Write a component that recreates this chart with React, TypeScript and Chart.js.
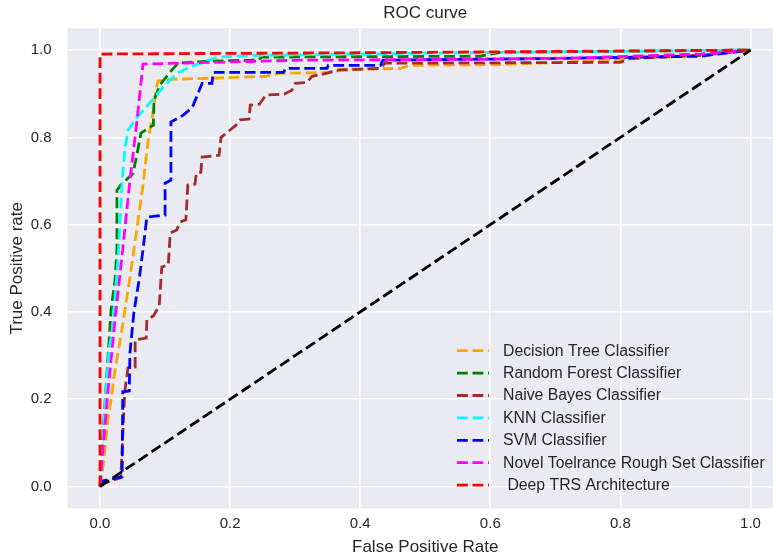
import React, { useEffect, useRef } from "react";
import { Chart, registerables } from "chart.js";

Chart.register(...registerables);

const xTicks = [0, 0.2, 0.4, 0.6, 0.8, 1.0];
const yTicks = [0, 0.2, 0.4, 0.6, 0.8, 1.0];

const seriesLabels = [
  "Decision Tree Classifier",
  "Random Forest Classifier",
  "Naive Bayes Classifier",
  "KNN Classifier",
  "SVM Classifier",
  "Novel Toelrance Rough Set Classifier",
  " Deep TRS Architecture",
];
const seriesColors = ["#FFA500", "#008000", "#A52A2A", "#00FFFF", "#0000FF", "#FF00FF", "#FF0000"];

const dtFpr = [0, 0.006, 0.012, 0.017, 0.023, 0.035, 0.051, 0.066, 0.074, 0.082, 0.086, 0.089, 0.108, 0.177, 0.254, 0.277, 0.362, 0.369, 0.462, 0.477, 0.615, 0.708, 0.8, 0.923, 1];
const dtTpr = [0, 0.061, 0.153, 0.199, 0.267, 0.37, 0.531, 0.69, 0.794, 0.862, 0.908, 0.929, 0.933, 0.936, 0.94, 0.947, 0.949, 0.956, 0.958, 0.965, 0.967, 0.972, 0.979, 0.988, 1];

const rfFpr = [0, 0.006, 0.012, 0.017, 0.023, 0.026, 0.026, 0.032, 0.051, 0.058, 0.063, 0.082, 0.083, 0.092, 0.108, 0.12, 0.169, 0.243, 0.249, 0.585, 0.615, 1];
const rfTpr = [0, 0.153, 0.29, 0.405, 0.473, 0.542, 0.679, 0.691, 0.718, 0.771, 0.81, 0.828, 0.885, 0.92, 0.95, 0.97, 0.975, 0.977, 0.984, 0.986, 0.995, 1];

const nbFpr = [0, 0.006, 0.032, 0.038, 0.043, 0.054, 0.054, 0.071, 0.072, 0.082, 0.091, 0.095, 0.105, 0.108, 0.118, 0.123, 0.132, 0.135, 0.146, 0.148, 0.155, 0.157, 0.183, 0.186, 0.2, 0.209, 0.215, 0.229, 0.231, 0.245, 0.255, 0.283, 0.295, 0.3, 0.318, 0.326, 0.349, 0.363, 0.431, 0.438, 0.8, 0.815, 0.923, 1];
const nbTpr = [0, 0.008, 0.02, 0.217, 0.272, 0.274, 0.336, 0.34, 0.382, 0.391, 0.414, 0.503, 0.508, 0.581, 0.588, 0.606, 0.611, 0.691, 0.693, 0.718, 0.72, 0.755, 0.759, 0.8, 0.817, 0.828, 0.84, 0.842, 0.874, 0.876, 0.897, 0.899, 0.908, 0.924, 0.926, 0.94, 0.947, 0.954, 0.958, 0.97, 0.972, 0.981, 0.988, 1];

const knnFpr = [0, 0.003, 0.008, 0.014, 0.02, 0.028, 0.034, 0.038, 0.043, 0.057, 0.08, 0.097, 0.118, 0.138, 0.18, 0.235, 0.615, 1];
const knnTpr = [0, 0.05, 0.198, 0.313, 0.37, 0.53, 0.702, 0.771, 0.817, 0.846, 0.885, 0.915, 0.947, 0.961, 0.984, 0.988, 0.995, 1];

const svmFpr = [0, 0.005, 0.034, 0.035, 0.045, 0.046, 0.052, 0.06, 0.066, 0.072, 0.1, 0.1, 0.109, 0.109, 0.128, 0.142, 0.157, 0.172, 0.174, 0.282, 0.285, 0.349, 0.351, 0.431, 0.435, 0.708, 0.923, 1];
const svmTpr = [0, 0.013, 0.022, 0.217, 0.219, 0.306, 0.398, 0.473, 0.542, 0.617, 0.622, 0.695, 0.702, 0.835, 0.851, 0.869, 0.924, 0.924, 0.949, 0.949, 0.958, 0.958, 0.965, 0.965, 0.977, 0.981, 0.986, 1];

const trsFpr = [0, 0.003, 0.011, 0.023, 0.034, 0.046, 0.057, 0.066, 0.308, 0.585, 0.738, 0.923, 1];
const trsTpr = [0, 0.061, 0.198, 0.382, 0.531, 0.702, 0.84, 0.968, 0.977, 0.979, 0.982, 0.991, 1];

const deepFpr = [0, 0, 0.4, 1];
const deepTpr = [0, 0.991, 0.994, 1];

const diagFpr = [0, 1];
const diagTpr = [0, 1];

const seriesFpr = [dtFpr, rfFpr, nbFpr, knnFpr, svmFpr, trsFpr, deepFpr];
const seriesTpr = [dtTpr, rfTpr, nbTpr, knnTpr, svmTpr, trsTpr, deepTpr];

const FONT = "'Liberation Sans', Arial, sans-serif";
const TEXT = "#262626";
const DASH = [10.8, 4.7];
const LW = 2.8;

function pts(xs: number[], ys: number[]) {
  return xs.map((x, i) => ({ x, y: ys[i] }));
}

export default function App() {
  const ref = useRef<HTMLCanvasElement | null>(null);

  useEffect(() => {
    if (!ref.current) return;
    const datasets: any[] = seriesLabels.map((label, i) => ({
      label,
      data: pts(seriesFpr[i], seriesTpr[i]),
      borderColor: seriesColors[i],
      backgroundColor: seriesColors[i],
      borderWidth: LW,
      borderDash: DASH,
      pointRadius: 0,
      tension: 0,
      fill: false,
      showLine: true,
      order: 20 - i,
    }));
    datasets.push({
      label: "",
      data: pts(diagFpr, diagTpr),
      borderColor: "#000000",
      backgroundColor: "#000000",
      borderWidth: LW,
      borderDash: DASH,
      pointRadius: 0,
      tension: 0,
      fill: false,
      showLine: true,
      order: 0,
    });

    const bgPlugin = {
      id: "bgPlugin",
      beforeDraw(chart: any) {
        const { ctx, chartArea } = chart;
        ctx.save();
        ctx.fillStyle = "#EAEAF2";
        ctx.fillRect(chartArea.left, chartArea.top, chartArea.right - chartArea.left, chartArea.bottom - chartArea.top);
        ctx.restore();
      },
    };

    const decoPlugin = {
      id: "decoPlugin",
      afterDraw(chart: any) {
        const { ctx, chartArea } = chart;
        ctx.save();
        ctx.fillStyle = TEXT;
        ctx.font = `17px ${FONT}`;
        ctx.textAlign = "center";
        ctx.textBaseline = "middle";
        ctx.fillText("ROC curve", (chartArea.left + chartArea.right) / 2, 13);

        const x0 = 457;
        const x1 = 489;
        const tx = 503;
        const y0 = 350.7;
        const dy = 22.4;
        ctx.font = `15.8px ${FONT}`;
        ctx.textAlign = "left";
        seriesLabels.forEach((label, i) => {
          const y = y0 + i * dy;
          ctx.strokeStyle = seriesColors[i];
          ctx.lineWidth = LW;
          ctx.setLineDash(DASH);
          ctx.beginPath();
          ctx.moveTo(x0, y);
          ctx.lineTo(x1, y);
          ctx.stroke();
          ctx.setLineDash([]);
          ctx.fillStyle = TEXT;
          ctx.fillText(label, tx, y + 0.5);
        });
        ctx.restore();
      },
    };

    const chart = new Chart(ref.current, {
      type: "scatter",
      data: { datasets },
      plugins: [bgPlugin, decoPlugin],
      options: {
        animation: false,
        responsive: false,
        maintainAspectRatio: false,
        layout: { padding: { left: 0, right: 17, top: 28.3, bottom: 0 } },
        plugins: {
          legend: { display: false },
          tooltip: { enabled: false },
          title: { display: false },
        },
        scales: {
          x: {
            type: "linear",
            min: -0.05,
            max: 1.05,
            afterBuildTicks: (s: any) => {
              s.ticks = xTicks.map((v) => ({ value: v }));
            },
            afterFit: (s: any) => {
              s.height = 50.7;
            },
            grid: { color: "#FFFFFF", lineWidth: 1.6, drawTicks: false },
            border: { display: false },
            ticks: {
              padding: 7,
              color: TEXT,
              font: { family: FONT, size: 15 },
              callback: (v: any) => Number(v).toFixed(1),
            },
            title: {
              display: true,
              text: "False Positive Rate",
              color: TEXT,
              font: { family: FONT, size: 17, lineHeight: 1.2 },
              padding: { top: 0, bottom: 1 },
            },
          },
          y: {
            type: "linear",
            min: -0.05,
            max: 1.05,
            afterBuildTicks: (s: any) => {
              s.ticks = yTicks.map((v) => ({ value: v }));
            },
            afterFit: (s: any) => {
              s.width = 67.5;
            },
            grid: { color: "#FFFFFF", lineWidth: 1.6, drawTicks: false },
            border: { display: false },
            ticks: {
              padding: 16,
              color: TEXT,
              font: { family: FONT, size: 15 },
              callback: (v: any) => Number(v).toFixed(1),
            },
            title: {
              display: true,
              text: "True Positive rate",
              color: TEXT,
              font: { family: FONT, size: 17, lineHeight: 1.2 },
              padding: { top: 7, bottom: 0 },
            },
          },
        },
      } as any,
    });
    return () => chart.destroy();
  }, []);

  return (
    <div style={{ position: "fixed", left: 0, top: 0, width: 773, height: 559, overflow: "hidden", background: "#FFFFFF" }}>
      <canvas ref={ref} width={800} height={559} style={{ width: 800, height: 559, display: "block" }} />
    </div>
  );
}
